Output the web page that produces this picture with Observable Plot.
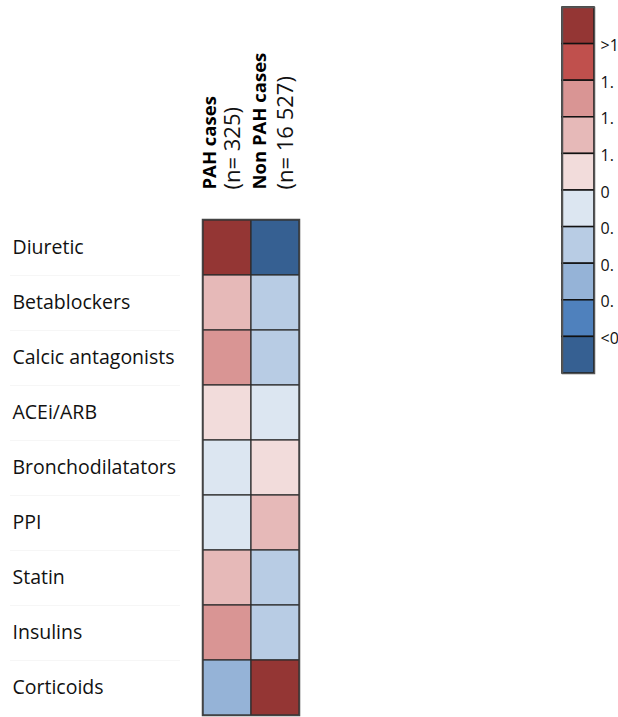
<!DOCTYPE html>
<html>
<head>
<meta charset="utf-8">
<script src="https://cdn.jsdelivr.net/npm/d3@7"></script>
<script src="https://cdn.jsdelivr.net/npm/@observablehq/plot@0.6"></script>
<style>
  html, body { margin: 0; padding: 0; background: #fff; overflow: hidden; }
  #wrap { position: relative; width: 618px; height: 717px; overflow: hidden; }
  #wrap svg { position: absolute; left: 0; top: 0; }
</style>
</head>
<body>
<div id="wrap"></div>
<script>
// ---- data ----
const drugs = ["Diuretic", "Betablockers", "Calcic antagonists", "ACEi/ARB", "Bronchodilatators", "PPI", "Statin", "Insulins", "Corticoids"];
const groups = ["PAH cases", "Non PAH cases"];
const groupN = ["(n= 325)", "(n= 16 527)"];
// colour class (1 = highest, 10 = lowest) per drug
const pahClass    = [1, 4, 3, 5, 6, 6, 4, 3, 8];
const nonPahClass = [10, 7, 7, 6, 5, 4, 7, 7, 1];
const classes = [1, 2, 3, 4, 5, 6, 7, 8, 9, 10];
const classColors = ["#943634", "#c0504d", "#d99594", "#e6b9b8", "#f2dcdb", "#dce6f1", "#b8cce4", "#95b3d7", "#4f81bd", "#366092"];
const legendLabels = [">1", "1.", "1.", "1.", "0", "0.", "0.", "0.", "<0"];

const cells = [];
drugs.forEach((d, i) => {
  cells.push({drug: d, group: groups[0], cls: pahClass[i]});
  cells.push({drug: d, group: groups[1], cls: nonPahClass[i]});
});

const FONT = "'Open Sans', sans-serif";
const colorScale = {type: "ordinal", domain: classes, range: classColors};

// ---- main heatmap ----
const headerOffsets = [[-25, -3], [-23, 2]];
const headerMarks = [];
groups.forEach((g, i) => {
  headerMarks.push(Plot.text([g], {
    x: d => d, frameAnchor: "top", text: d => d, rotate: -90, textAnchor: "start",
    dx: headerOffsets[i][0], dy: -30, fontWeight: "bold", fontSize: 18.5, fill: "#000"
  }));
  headerMarks.push(Plot.text([groupN[i]], {
    x: () => g, frameAnchor: "top", text: d => d, rotate: -90, textAnchor: "start",
    dx: headerOffsets[i][1], dy: -30, fontSize: 22, fill: "#111"
  }));
});

const main = Plot.plot({
  width: 618,
  height: 717,
  marginLeft: 202,
  marginRight: 319,
  marginTop: 219,
  marginBottom: 2,
  style: {fontFamily: FONT, background: "transparent", overflow: "visible"},
  x: {type: "band", domain: groups, padding: 0, axis: null},
  y: {type: "band", domain: drugs, padding: 0, axis: null},
  color: colorScale,
  marks: [
    Plot.cell(cells, {x: "group", y: "drug", fill: "cls", stroke: "#2b2b2b", strokeWidth: 1.2}),
    Plot.frame({stroke: "#444", strokeWidth: 1.5}),
    Plot.text(drugs, {
      y: d => d, frameAnchor: "left", dx: -190, text: d => d, textAnchor: "start",
      fontSize: 19.5, fill: "#111"
    }),
    ...headerMarks
  ]
});

// faint separators under the row labels
const sepPlot = Plot.plot({
  width: 618,
  height: 717,
  marginLeft: 10,
  marginRight: 438,
  marginTop: 219,
  marginBottom: 2,
  style: {background: "transparent"},
  x: {domain: [0, 1], axis: null},
  y: {type: "band", domain: drugs, padding: 0, axis: null},
  marks: [
    Plot.ruleY(drugs.slice(1), {y: d => d, dy: -27.5, stroke: "#f6f6f6", strokeWidth: 1})
  ]
});

// ---- legend ----
const legendData = classes.map((c, i) => ({cls: c, i}));
const legend = Plot.plot({
  width: 618,
  height: 717,
  marginLeft: 562,
  marginRight: 24,
  marginTop: 7,
  marginBottom: 344,
  style: {fontFamily: FONT, background: "transparent", overflow: "visible"},
  x: {domain: [0, 1], axis: null},
  y: {domain: [0, 10], reverse: true, axis: null},
  color: colorScale,
  marks: [
    Plot.rect(legendData, {x1: 0, x2: 1, y1: d => d.i, y2: d => d.i + 1, fill: "cls", stroke: "#111", strokeWidth: 1.5}),
    Plot.frame({stroke: "#555", strokeWidth: 1.5}),
    Plot.text(legendLabels, {
      x: 1, y: (d, i) => i + 1, text: d => d, dx: 6, dy: 2, textAnchor: "start",
      fontSize: 16, fill: "#111"
    })
  ]
});

const wrap = document.getElementById("wrap");
wrap.appendChild(sepPlot);
wrap.appendChild(main);
wrap.appendChild(legend);
</script>
</body>
</html>
